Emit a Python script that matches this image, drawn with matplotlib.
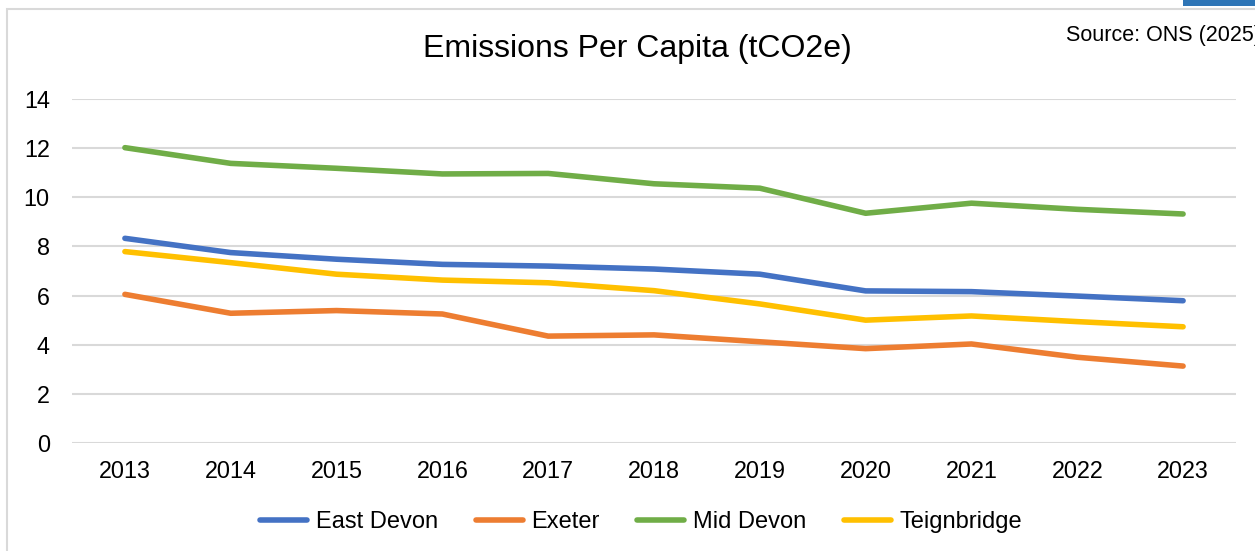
import matplotlib
matplotlib.use("Agg")
import matplotlib.pyplot as plt
from matplotlib.patches import Rectangle

years = ["2013", "2014", "2015", "2016", "2017", "2018", "2019", "2020", "2021", "2022", "2023"]
east_devon = [8.33, 7.75, 7.48, 7.27, 7.20, 7.08, 6.87, 6.19, 6.16, 5.98, 5.79]
exeter = [6.05, 5.28, 5.39, 5.25, 4.35, 4.40, 4.12, 3.84, 4.03, 3.49, 3.13]
mid_devon = [12.02, 11.38, 11.18, 10.95, 10.97, 10.55, 10.37, 9.35, 9.76, 9.51, 9.32]
teignbridge = [7.79, 7.34, 6.87, 6.63, 6.52, 6.20, 5.66, 5.00, 5.17, 4.94, 4.73]
series_names = ["East Devon", "Exeter", "Mid Devon", "Teignbridge"]
yticks = [0, 2, 4, 6, 8, 10, 12, 14]

colors = ["#4472C4", "#ED7D31", "#70AD47", "#FFC000"]
plt.rcParams['font.family'] = ['Liberation Sans', 'DejaVu Sans']

W, H = 1255, 551
fig = plt.figure(figsize=(W / 100, H / 100), dpi=100)
fig.patch.set_facecolor("white")

# outer chart border and small blue tab
fig.add_artist(Rectangle((7 / W, -0.01), 1.02, 1 - 9 / H + 0.01, transform=fig.transFigure,
                         fill=False, edgecolor="#d9d9d9", linewidth=1.5))
fig.add_artist(Rectangle((1183 / W, 1 - 6 / H), 80 / W, 6 / H + 0.01, transform=fig.transFigure,
                         facecolor="#2E75B6", edgecolor="none"))

ax = fig.add_axes([72 / W, 1 - 443 / H, (1236 - 72) / W, (443 - 99) / H])
x = list(range(len(years)))
for vals, name, c in zip([east_devon, exeter, mid_devon, teignbridge], series_names, colors):
    ax.plot(x, vals, color=c, linewidth=4.0, solid_capstyle="round", solid_joinstyle="round",
            label=name, zorder=3)

ax.set_xlim(-0.5, len(years) - 0.5)
ax.set_ylim(0, 14)
ax.set_yticks(yticks)
ax.set_yticklabels([str(v) for v in yticks])
ax.set_xticks(x)
ax.set_xticklabels(years)
ax.grid(axis="y", color="#d9d9d9", linewidth=1.5, zorder=0)
ax.set_axisbelow(True)
for s in ax.spines.values():
    s.set_visible(False)
ax.tick_params(axis="both", length=0, labelsize=16.8, colors="black")
ax.tick_params(axis="y", pad=16)
ax.tick_params(axis="x", pad=12)

fig.text(637 / W, 1 - 49 / H, "Emissions Per Capita (tCO2e)", ha="center", va="center",
         fontsize=23, color="black")
# the reference itself shows this source note clipped at the right edge
fig.text(1066 / W, 1 - 36 / H, "Source: ONS (2025)", ha="left", va="center",
         fontsize=15.5, color="black")

handles, labels = ax.get_legend_handles_labels()
fig.legend(handles, labels, loc="center", bbox_to_anchor=(641 / W, 1 - 522 / H), ncol=4,
           frameon=False, fontsize=17, handlelength=2.0, handletextpad=0.35,
           columnspacing=1.6)

fig.savefig("out.png", dpi=100, facecolor="white")
